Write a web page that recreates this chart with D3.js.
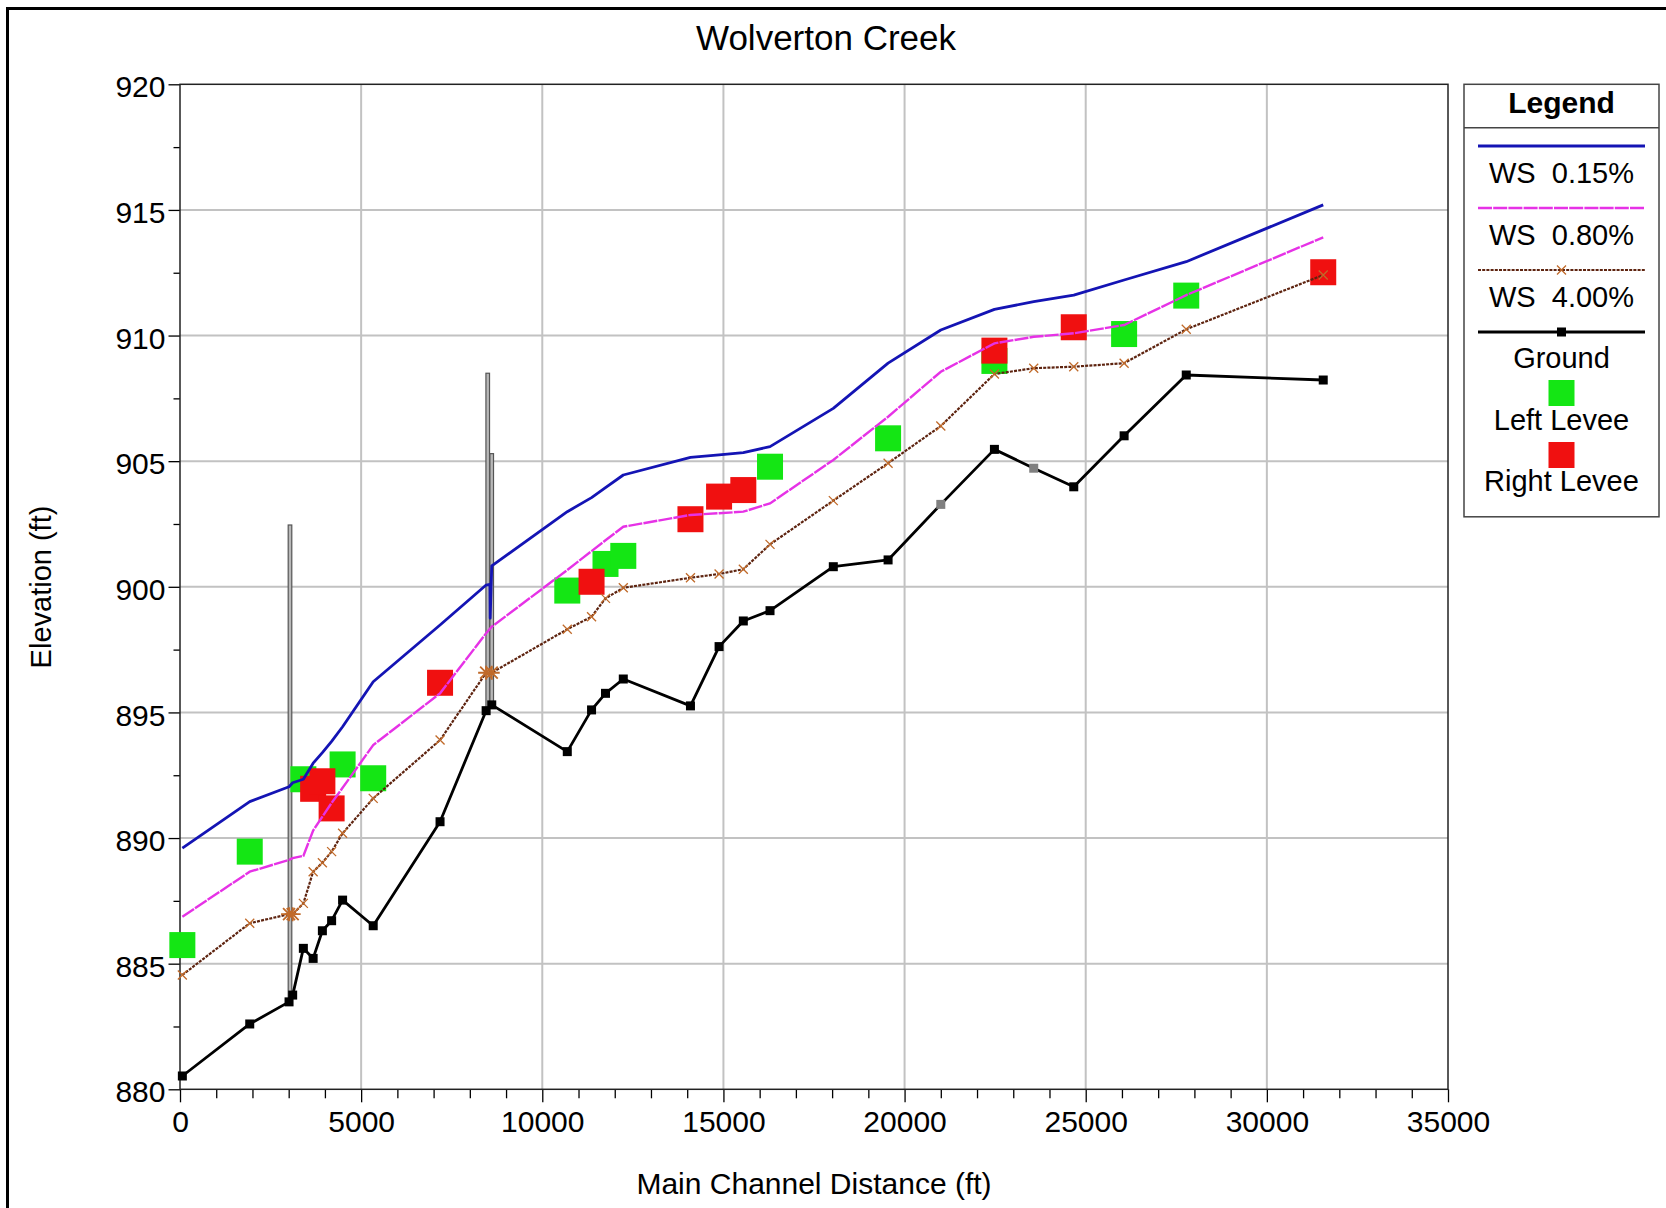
<!DOCTYPE html>
<html><head><meta charset="utf-8">
<script src="https://cdn.jsdelivr.net/npm/d3@7"></script>
<style>
body{margin:0;background:#fff;overflow:hidden}
svg{display:block}
text{font-family:"Liberation Sans",Arial,sans-serif;fill:#000}
</style>
</head><body>
<svg id="c" width="1666" height="1208"></svg>
<script>
// ---------------- DATA ----------------
const chartTitle = "Wolverton Creek";
const xTitle = "Main Channel Distance (ft)";
const yTitle = "Elevation (ft)";
const xMajorTicks = [0, 5000, 10000, 15000, 20000, 25000, 30000, 35000];
const yMajorTicks = [880, 885, 890, 895, 900, 905, 910, 915, 920];

// cross-section stations (ft)
const stations = [65, 1925, 3010, 3110, 3405, 3675, 3930, 4185, 4488, 5333, 7178, 8450, 8605,
  10690, 11360, 11745, 12236, 14090, 14880, 15549, 16286, 18033, 19545, 21000, 22480, 23565,
  24670, 26060, 27775, 31556];

const ground = [880.53, 882.6, 883.48, 883.75, 885.61, 885.21, 886.31, 886.71, 887.53, 886.51,
  890.65, 895.07, 895.3, 893.44, 895.1, 895.76, 896.33, 895.26, 897.62, 898.64, 899.05, 900.8,
  901.07, 903.28, 905.47, 904.72, 903.98, 906.01, 908.43, 908.23];
const groundEstimated = [23, 25]; // indices of estimated (grey) ground points

const ws400 = [884.55, 886.61, 886.97, 886.97, 887.4, 888.66, 889.02, 889.46, 890.19, 891.58,
  893.9, 896.58, 896.58, 898.31, 898.81, 899.54, 899.96, 900.36, 900.51, 900.7, 901.69, 903.43,
  904.92, 906.4, 908.47, 908.7, 908.76, 908.9, 910.25, 912.41];

const ws080 = [886.87, 888.66, 889.13, 889.2, 889.29, 890.3, 890.85, 891.4, 892.0, 893.7,
  895.76, 898.15, 898.41, 900.67, 901.42, 901.85, 902.39, 902.86, 902.93, 902.99, 903.32, 905.05,
  906.77, 908.56, 909.69, 909.95, 910.09, 910.42, 911.61, 913.91];

const ws015Stations = [65, 1925, 3010, 3110, 3405, 3675, 3930, 4185, 4488, 5333, 7178, 8450,
  8555, 8562, 8605, 10690, 11360, 11745, 12236, 14090, 14880, 15549, 16286, 18033, 19545, 21000,
  22480, 23565, 24670, 26060, 27775, 31556];
const ws015 = [889.6, 891.45, 892.04, 892.2, 892.34, 892.98, 893.4, 893.85, 894.43, 896.22,
  898.48, 900.07, 900.1, 898.75, 900.83, 902.99, 903.55, 903.95, 904.45, 905.15, 905.25, 905.34,
  905.58, 907.1, 908.9, 910.22, 911.04, 911.35, 911.61, 912.21, 912.94, 915.2];

const leftLeveeStations = [65, 1925, 3405, 4488, 5333, 10690, 11745, 12236, 16286, 19545, 22480, 26060, 27775];
const leftLevee = [885.74, 889.46, 892.34, 892.93, 892.38, 899.85, 900.91, 901.23, 904.78, 905.91, 908.99, 910.06, 911.59];

const rightLeveeStations = [3675, 3930, 4185, 7178, 11360, 14090, 14880, 15549, 22480, 24670, 31556];
const rightLevee = [891.96, 892.26, 891.18, 896.18, 900.2, 902.69, 903.59, 903.85, 909.4, 910.33, 912.52];

// bridge / culvert structures
const bridgeStations = [3036, 8494, 8604];
const bridgeTop = [902.46, 908.5, 905.3];
const bridgeBottom = [883.5, 895.2, 895.2];

const legendLabels = ["WS  0.15%", "WS  0.80%", "WS  4.00%", "Ground", "Left Levee", "Right Levee"];

// ---------------- DRAW ----------------
const svg = d3.select("#c");
const W = 1666, H = 1208;
const x = d3.scaleLinear().domain([0, 35000]).range([180, 1448]);
const y = d3.scaleLinear().domain([880, 920]).range([1089.3, 84.3]);

const C = {blue:"#1414b4", magenta:"#e632e6", brown:"#5e2410", brownMk:"#c06a2a",
  green:"#14e614", red:"#f01010", grid:"#c2c2c2"};

// outer border (top & left)
svg.append("path").attr("d", "M7.5," + H + "V8.5H" + W)
  .attr("fill", "none").attr("stroke", "#000").attr("stroke-width", 3);

// title
svg.append("text").attr("x", 826).attr("y", 50).attr("text-anchor", "middle")
  .attr("font-size", 35).text(chartTitle);

// grid
const grid = svg.append("g");
grid.selectAll("line.v").data(xMajorTicks.filter(d => d > 0 && d < 35000)).join("line")
  .attr("x1", d => x(d)).attr("x2", d => x(d)).attr("y1", y(920)).attr("y2", y(880))
  .attr("stroke", C.grid).attr("stroke-width", 2);
grid.selectAll("line.h").data(yMajorTicks.filter(d => d > 880 && d < 920)).join("line")
  .attr("y1", d => y(d)).attr("y2", d => y(d)).attr("x1", x(0)).attr("x2", x(35000))
  .attr("stroke", C.grid).attr("stroke-width", 2);

// axes
const xMinor = d3.range(0, 35001, 1000).filter(d => d % 5000 !== 0);
const yMinor = d3.range(882.5, 920, 5);

const gx = svg.append("g").attr("transform", `translate(0,${y(880)})`);
gx.append("g").call(d3.axisBottom(x).tickValues(xMinor).tickSize(9).tickFormat(""))
  .call(g => g.select(".domain").remove());
gx.append("g").call(d3.axisBottom(x).tickValues(xMajorTicks).tickSize(13).tickPadding(8).tickFormat(d3.format("d")))
  .call(g => g.select(".domain").remove())
  .call(g => g.selectAll("text").attr("font-size", 30).attr("font-family", '"Liberation Sans",Arial,sans-serif'));

const gy = svg.append("g").attr("transform", `translate(${x(0)},0)`);
gy.append("g").call(d3.axisLeft(y).tickValues(yMinor).tickSize(6.5).tickFormat(""))
  .call(g => g.select(".domain").remove());
gy.append("g").call(d3.axisLeft(y).tickValues(yMajorTicks).tickSize(11.5).tickPadding(3).tickFormat(d3.format("d")))
  .call(g => g.select(".domain").remove())
  .call(g => g.selectAll("text").attr("font-size", 30).attr("dy", "0.42em").attr("font-family", '"Liberation Sans",Arial,sans-serif'));
svg.selectAll(".tick line").attr("stroke", "#000").attr("stroke-width", 1.3);

// axis titles
svg.append("text").attr("x", 814).attr("y", 1194).attr("text-anchor", "middle")
  .attr("font-size", 30).text(xTitle);
svg.append("text").attr("transform", "translate(51,587) rotate(-90)").attr("text-anchor", "middle")
  .attr("font-size", 29).text(yTitle);

// plot frame
svg.append("rect").attr("x", x(0)).attr("y", y(920)).attr("width", x(35000) - x(0))
  .attr("height", y(880) - y(920)).attr("fill", "none").attr("stroke", "#222").attr("stroke-width", 1.5);

// bridges
const br = svg.append("g");
bridgeStations.forEach((s, i) => {
  br.append("rect").attr("x", x(s) - 1.8).attr("width", 3.6)
    .attr("y", y(bridgeTop[i])).attr("height", y(bridgeBottom[i]) - y(bridgeTop[i]))
    .attr("fill", "#b8b8b8").attr("stroke", "#555").attr("stroke-width", 1.2);
});

// levee squares
const sq = 26;
svg.append("g").selectAll("rect").data(leftLeveeStations).join("rect")
  .attr("x", (d) => x(d) - sq / 2).attr("y", (d, i) => y(leftLevee[i]) - sq / 2)
  .attr("width", sq).attr("height", sq).attr("fill", C.green);
svg.append("g").selectAll("rect").data(rightLeveeStations).join("rect")
  .attr("x", (d) => x(d) - sq / 2).attr("y", (d, i) => y(rightLevee[i]) - sq / 2)
  .attr("width", sq).attr("height", sq).attr("fill", C.red);

// lines
const line = d3.line();
const pts = (xs, ys) => xs.map((d, i) => [x(d), y(ys[i])]);

svg.append("path").attr("d", line(pts(stations, ground))).attr("fill", "none")
  .attr("stroke", "#000").attr("stroke-width", 2.8).attr("stroke-linejoin", "round");
svg.append("path").attr("d", line(pts(stations, ws400))).attr("fill", "none")
  .attr("stroke", C.brown).attr("stroke-width", 2.2).attr("stroke-dasharray", "3,1.2");
svg.append("path").attr("d", line(pts(stations, ws080))).attr("fill", "none")
  .attr("stroke", C.magenta).attr("stroke-width", 2.4).attr("stroke-dasharray", "14,1.2");
svg.append("path").attr("d", line(pts(ws015Stations, ws015))).attr("fill", "none")
  .attr("stroke", C.blue).attr("stroke-width", 2.8).attr("stroke-linejoin", "round");

// brown x markers (star where bridge sections coincide)
const xm = (cx, cy, r) => `M${cx - r},${cy - r}L${cx + r},${cy + r}M${cx - r},${cy + r}L${cx + r},${cy - r}`;
const isBridge = s => bridgeStations.some(b => Math.abs(b - s) < 120);
svg.append("g").selectAll("path").data(stations).join("path")
  .attr("d", (d, i) => {
    const cx = x(d), cy = y(ws400[i]);
    return isBridge(d) ? xm(cx, cy, 6) + `M${cx - 8},${cy}L${cx + 8},${cy}M${cx},${cy - 7}L${cx},${cy + 7}` : xm(cx, cy, 4.5);
  })
  .attr("stroke", C.brownMk).attr("stroke-width", (d) => isBridge(d) ? 1.8 : 1.3).attr("fill", "none");

// ground square markers
const gm = 9;
svg.append("g").selectAll("rect").data(stations).join("rect")
  .attr("x", d => x(d) - gm / 2).attr("y", (d, i) => y(ground[i]) - gm / 2)
  .attr("width", gm).attr("height", gm)
  .attr("fill", (d, i) => groundEstimated.includes(i) ? "#808080" : "#000");

// legend
const L = svg.append("g");
const lx0 = 1464, lx1 = 1659, lcx = (lx0 + lx1) / 2;
L.append("rect").attr("x", lx0).attr("y", 84.3).attr("width", lx1 - lx0).attr("height", 432.5)
  .attr("fill", "#fff").attr("stroke", "#444").attr("stroke-width", 1.5);
L.append("line").attr("x1", lx0).attr("x2", lx1).attr("y1", 127.7).attr("y2", 127.7)
  .attr("stroke", "#444").attr("stroke-width", 1.5);
L.append("text").attr("x", lcx).attr("y", 113).attr("text-anchor", "middle")
  .attr("font-size", 30).attr("font-weight", "bold").text("Legend");
const la = 1478, lb = 1645;
L.append("line").attr("x1", la).attr("x2", lb).attr("y1", 146).attr("y2", 146)
  .attr("stroke", C.blue).attr("stroke-width", 2.8);
L.append("line").attr("x1", la).attr("x2", lb).attr("y1", 208).attr("y2", 208)
  .attr("stroke", C.magenta).attr("stroke-width", 2.4).attr("stroke-dasharray", "14,1.2");
L.append("line").attr("x1", la).attr("x2", lb).attr("y1", 270).attr("y2", 270)
  .attr("stroke", C.brown).attr("stroke-width", 2.2).attr("stroke-dasharray", "3,1.2");
L.append("path").attr("d", xm(lcx, 270, 4.5)).attr("stroke", C.brownMk).attr("stroke-width", 1.3);
L.append("line").attr("x1", la).attr("x2", lb).attr("y1", 332).attr("y2", 332)
  .attr("stroke", "#000").attr("stroke-width", 2.8);
L.append("rect").attr("x", lcx - gm / 2).attr("y", 332 - gm / 2).attr("width", gm).attr("height", gm).attr("fill", "#000");
L.append("rect").attr("x", lcx - 13).attr("y", 380).attr("width", 26).attr("height", 26).attr("fill", C.green);
L.append("rect").attr("x", lcx - 13).attr("y", 442).attr("width", 26).attr("height", 26).attr("fill", C.red);
const lblY = [182.5, 245, 307.3, 367.7, 429.5, 490.7];
L.selectAll("text.lbl").data(legendLabels).join("text").attr("class", "lbl")
  .attr("x", lcx).attr("y", (d, i) => lblY[i]).attr("text-anchor", "middle")
  .attr("font-size", 29).attr("xml:space", "preserve").style("white-space", "pre").text(d => d);
</script>
</body></html>
